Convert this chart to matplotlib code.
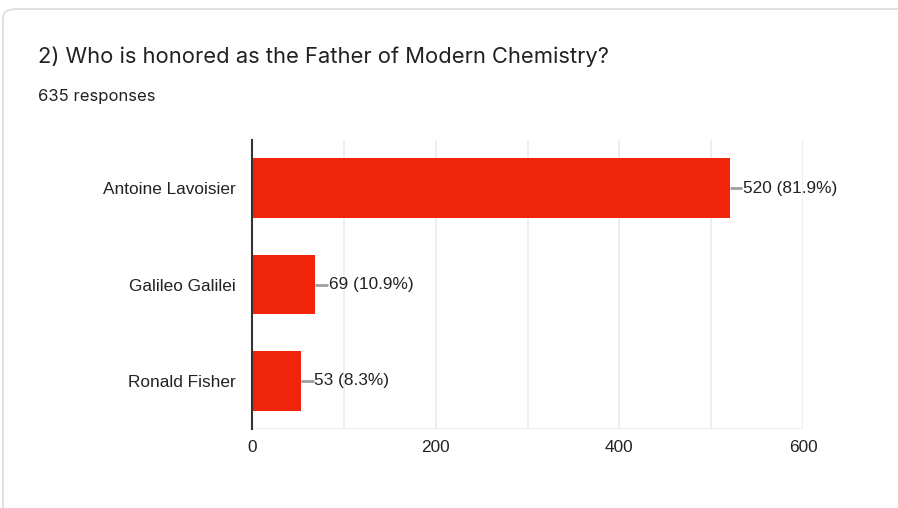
import matplotlib
matplotlib.use('Agg')
from matplotlib import pyplot as plt
from matplotlib.patches import FancyBboxPatch
from matplotlib.ticker import MultipleLocator

# survey results
answers = ['Antoine Lavoisier', 'Galileo Galilei', 'Ronald Fisher']
counts = [520, 69, 53]
total_responses = 635
question = '2) Who is honored as the Father of Modern Chemistry?'
x_ticks = [0, 200, 400, 600]

W, H = 898, 508
fig = plt.figure(figsize=(W / 100, H / 100), dpi=100)
fig.patch.set_facecolor('white')

# card outline, runs past the right and bottom edges
card = FancyBboxPatch((3 / W, -0.2), 1.2, (H - 9) / H + 0.2,
                      boxstyle='round,pad=0,rounding_size=0.016',
                      transform=fig.transFigure, facecolor='none',
                      edgecolor='#dadce0', lw=1.2, clip_on=False, zorder=-1)
fig.patches.append(card)

fig.text(38 / W, 1 - 57 / H, question, fontsize=15.8, family='Inter',
         color='#202124', va='center', ha='left')
fig.text(38 / W, 1 - 96 / H, '{} responses'.format(total_responses),
         fontsize=12, family='Inter', color='#202124', va='center', ha='left')

ax = fig.add_axes([252 / W, 1 - 429 / H, (803 - 252) / W, (429 - 140) / H])
ax.patch.set_alpha(0)
y_pos = range(len(answers))
ax.barh(y_pos, counts, height=0.62, color='#f0240a', zorder=3)
ax.set_ylim(len(answers) - 0.5, -0.5)
ax.set_xlim(0, 600)
ax.set_yticks(list(y_pos))
ax.set_yticklabels(answers, family='Liberation Sans', fontsize=12.4, color='#222222')
ax.set_xticks(x_ticks)
ax.set_xticklabels([str(t) for t in x_ticks], family='Liberation Sans',
                   fontsize=12.4, color='#222222')
ax.xaxis.set_minor_locator(MultipleLocator(100))
ax.tick_params(axis='y', which='both', length=0, pad=12)
ax.tick_params(axis='x', which='both', length=0, pad=8)
ax.grid(axis='x', which='both', color='#ebebeb', lw=1.2, zorder=0)
ax.axhline(len(answers) - 0.5, color='#ebebeb', lw=1.2, zorder=0)
for side in ['top', 'right', 'bottom']:
    ax.spines[side].set_visible(False)
ax.spines['left'].set_color('#333333')
ax.spines['left'].set_linewidth(1.5)
ax.spines['left'].set_zorder(4)

# value labels with a short leader line
for i, c in enumerate(counts):
    ax.plot([c, c + 14], [i, i], color='#9e9e9e', lw=2, zorder=4,
            solid_capstyle='butt')
    ax.text(c + 15, i, '{} ({:.1f}%)'.format(c, c / total_responses * 100),
            va='center', ha='left', family='Liberation Sans', fontsize=12.4,
            color='#222222')

fig.savefig('out.png', dpi=100)
